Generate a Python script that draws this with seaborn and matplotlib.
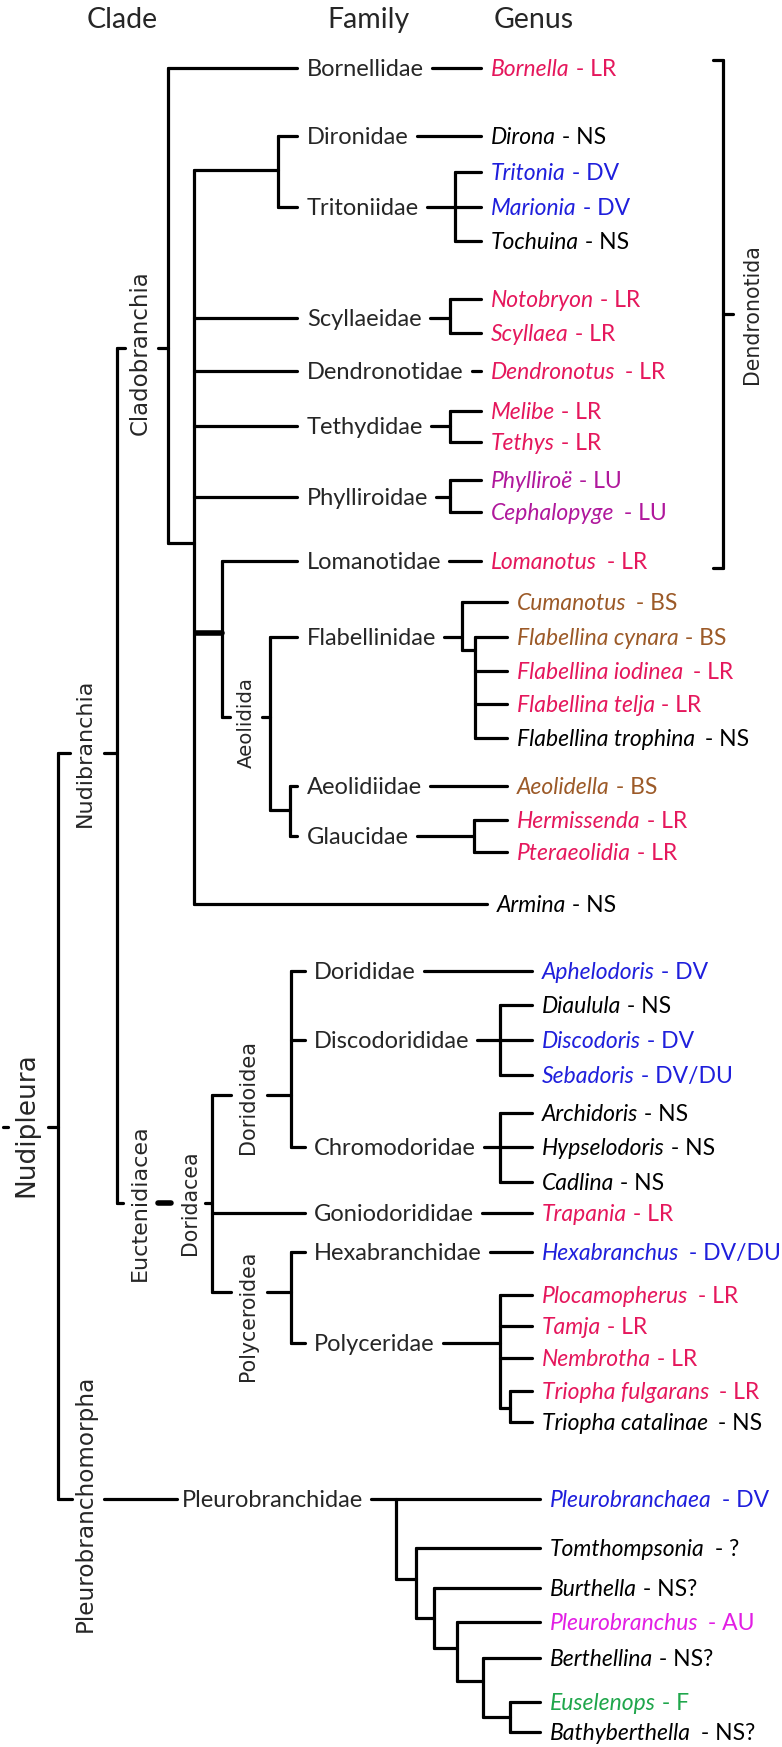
import matplotlib
matplotlib.use("Agg")
import matplotlib.pyplot as plt
import seaborn as sns
import pandas as pd

# ---------------- data ----------------
genera = ["Bornella", "Dirona", "Tritonia", "Marionia", "Tochuina", "Notobryon", "Scyllaea",
          "Dendronotus", "Melibe", "Tethys", "Phylliroë", "Cephalopyge", "Lomanotus",
          "Cumanotus", "Flabellina cynara", "Flabellina iodinea", "Flabellina telja",
          "Flabellina trophina", "Aeolidella", "Hermissenda", "Pteraeolidia", "Armina",
          "Aphelodoris", "Diaulula", "Discodoris", "Sebadoris", "Archidoris", "Hypselodoris",
          "Cadlina", "Trapania", "Hexabranchus", "Plocamopherus", "Tamja", "Nembrotha",
          "Triopha fulgarans", "Triopha catalinae", "Pleurobranchaea", "Tomthompsonia",
          "Burthella", "Pleurobranchus", "Berthellina", "Euselenops", "Bathyberthella"]
genus_codes = ["LR", "NS", "DV", "DV", "NS", "LR", "LR",
               "LR", "LR", "LR", "LU", "LU", "LR",
               "BS", "BS", "LR", "LR", "NS", "BS", "LR", "LR", "NS",
               "DV", "NS", "DV", "DV/DU", "NS", "NS", "NS", "LR",
               "DV/DU", "LR", "LR", "LR", "LR", "NS",
               "DV", "?", "NS?", "AU", "NS?", "F", "NS?"]
# genera written with a wider gap before the dash
wide_gap = ["Dendronotus", "Cephalopyge", "Lomanotus", "Cumanotus", "Flabellina iodinea",
            "Flabellina trophina", "Hexabranchus", "Plocamopherus", "Triopha fulgarans",
            "Triopha catalinae", "Pleurobranchaea", "Tomthompsonia", "Pleurobranchus",
            "Bathyberthella"]
genus_rows = [68, 136, 172, 207, 241, 299, 333, 371, 411, 442, 480, 512, 561,
              602, 637, 671, 704, 738, 786, 820, 852, 904,
              971, 1005, 1040, 1075, 1113, 1147, 1182, 1213, 1252, 1295, 1326, 1358, 1391, 1422,
              1499, 1548, 1588, 1622, 1658, 1702, 1732]

families = ["Bornellidae", "Dironidae", "Tritoniidae", "Scyllaeidae", "Dendronotidae",
            "Tethydidae", "Phylliroidae", "Lomanotidae", "Flabellinidae", "Aeolidiidae",
            "Glaucidae", "Dorididae", "Discodorididae", "Chromodoridae", "Goniodorididae",
            "Hexabranchidae", "Polyceridae", "Pleurobranchidae"]
family_rows = [68, 136, 207, 318, 371, 426, 497, 561, 637, 786, 836,
               971, 1040, 1147, 1213, 1252, 1343, 1499]

clades = ["Cladobranchia", "Nudibranchia", "Nudipleura", "Euctenidiacea", "Doridacea",
          "Doridoidea", "Polyceroidea", "Aeolidida", "Dendronotida", "Pleurobranchomorpha"]

code_colors = {"LR": "#e5175c", "DV": "#1f1fdc", "DV/DU": "#1f1fdc", "LU": "#b0189c",
               "BS": "#9c5a28", "AU": "#e21ee4", "F": "#1fa64b"}

# ---------------- layout ----------------
W, H = 782, 1747
LW, LW_THICK = 2.3, 4.0
R = dict(zip(genera, genus_rows))
F = dict(zip(families, family_rows))

# x where each group of genus branches ends
tip = {}
for g in genera[:13]:
    tip[g] = 481
for g in genera[13:21]:
    tip[g] = 507
tip["Armina"] = 487
for g in genera[22:36]:
    tip[g] = 532
for g in genera[36:]:
    tip[g] = 540

fam_x = {f: 307 for f in families[:11]}
fam_x.update({f: 314 for f in families[11:17]})
fam_x["Pleurobranchidae"] = 182
# where the line leaving each family label stops
fam_to = {"Bornellidae": 481, "Dironidae": 481, "Tritoniidae": 455, "Scyllaeidae": 450,
          "Dendronotidae": 481, "Tethydidae": 450, "Phylliroidae": 450, "Lomanotidae": 481,
          "Flabellinidae": 462, "Aeolidiidae": 507, "Glaucidae": 474, "Dorididae": 532,
          "Discodorididae": 500, "Chromodoridae": 500, "Goniodorididae": 532,
          "Hexabranchidae": 532, "Polyceridae": 500, "Pleurobranchidae": 540}

clade_x = [140, 85, 26, 140, 190, 248, 248, 246, 752, 85]
clade_y = [353, 753, 1125, 1203, 1203, 1097, 1316, 723, 314, 1503]
clade_size = [16.5, 16, 19, 16, 14.8, 15, 14.8, 14.2, 14.8, 16.7]

segs = []


def h(y, x0, x1, lw=LW):
    segs.append((x0, y, x1, y, lw))


def v(x, y0, y1, lw=LW):
    segs.append((x, y0, x, y1, lw))


def fork(x, ys, x_end):
    v(x, min(ys), max(ys))
    for y in ys:
        h(y, x, x_end)


# Cladobranchia
v(168, F["Bornellidae"], 543)
h(F["Bornellidae"], 168, 297)
h(543, 168, 194)
v(194, 170, R["Armina"])
h(170, 194, 278)
fork(278, [F["Dironidae"], F["Tritoniidae"]], 297)
for f in ["Scyllaeidae", "Dendronotidae", "Tethydidae", "Phylliroidae"]:
    h(F[f], 194, 297)
fork(455, [R["Tritonia"], R["Marionia"], R["Tochuina"]], 481)
fork(450, [R["Notobryon"], R["Scyllaea"]], 481)
fork(450, [R["Melibe"], R["Tethys"]], 481)
fork(450, [R["Phylliroë"], R["Cephalopyge"]], 481)
h(633, 196, 222, LW_THICK)
v(222, F["Lomanotidae"], 717)
h(F["Lomanotidae"], 222, 297)
h(717, 222, 230)
h(717, 262, 270)
v(270, F["Flabellinidae"], 810)
h(F["Flabellinidae"], 270, 297)
h(810, 270, 290)
fork(290, [F["Aeolidiidae"], F["Glaucidae"]], 297)
v(462, R["Cumanotus"], 650)
h(R["Cumanotus"], 462, 507)
h(650, 462, 475)
fork(475, [R["Flabellina cynara"], R["Flabellina iodinea"], R["Flabellina telja"],
           R["Flabellina trophina"]], 507)
fork(474, [R["Hermissenda"], R["Pteraeolidia"]], 507)
h(R["Armina"], 194, 487)

# deeper clades
h(348, 117, 125)
h(348, 158, 168)
v(117, 348, 1203)
h(753, 58, 70)
h(753, 104, 117)
v(58, 753, 1499)
h(1127, 3, 8)
h(1127, 48, 58)
h(1203, 117, 123)
h(1203, 158, 171, LW_THICK)
h(1203, 205, 212)
v(212, 1095, 1292)
h(1095, 212, 231)
h(1095, 267, 291)
fork(291, [F["Dorididae"], F["Discodorididae"], F["Chromodoridae"]], 305)
fork(500, [R["Diaulula"], R["Discodoris"], R["Sebadoris"]], 532)
fork(500, [R["Archidoris"], R["Hypselodoris"], R["Cadlina"]], 532)
h(F["Goniodorididae"], 212, 305)
h(1292, 212, 231)
h(1292, 267, 291)
fork(291, [F["Hexabranchidae"], F["Polyceridae"]], 305)
v(500, R["Plocamopherus"], 1408)
for g in ["Plocamopherus", "Tamja", "Nembrotha"]:
    h(R[g], 500, 532)
h(1408, 500, 510)
fork(510, [R["Triopha fulgarans"], R["Triopha catalinae"]], 532)

# Pleurobranchomorpha
h(1499, 58, 72)
h(1499, 104, 177)
ladder_x = [396, 416, 434, 457, 483, 510]
ladder_node = [1579, 1618, 1648, 1681, 1717]
ladder_leaf = ["Pleurobranchaea", "Tomthompsonia", "Burthella", "Pleurobranchus", "Berthellina"]
for i in range(5):
    v(ladder_x[i], R[ladder_leaf[i]], ladder_node[i])
    if i > 0:
        h(R[ladder_leaf[i]], ladder_x[i], 540)
    h(ladder_node[i], ladder_x[i], ladder_x[i + 1])
fork(510, [R["Euselenops"], R["Bathyberthella"]], 540)

# Dendronotida bracket
v(723, 60, 568)
h(60, 713, 723)
h(568, 713, 723)
h(314, 723, 733)

# ---------------- drawing ----------------
sns.set_theme(style="white")
plt.rcParams["font.family"] = ["Lato", "DejaVu Sans"]

fig = plt.figure(figsize=(W / 100, H / 100), dpi=100)
ax = fig.add_axes([0, 0, 1, 1])
ax.set_xlim(0, W)
ax.set_ylim(H, 0)

FS_FAM, FS_GEN = 17, 16.5
CAP = 8.3  # half cap height in px, to put text centre on the branch

# family labels first, so the connectors can start after them
fam_txt = []
for f, y in zip(families, family_rows):
    fam_txt.append(ax.text(fam_x[f], y + CAP, f, fontsize=FS_FAM, va="baseline", ha="left"))

gen_txt = []
for g, code, y in zip(genera, genus_codes, genus_rows):
    c = code_colors.get(code, "black")
    gen_txt.append(ax.text(tip[g] + 10, y + CAP, g, fontsize=FS_GEN, style="italic",
                           color=c, va="baseline", ha="left"))

fig.canvas.draw()
rend = fig.canvas.get_renderer()
inv = ax.transData.inverted()

for t, f, y in zip(fam_txt, families, family_rows):
    x_end = inv.transform((t.get_window_extent(rend).x1, 0))[0]
    h(y, min(x_end + 8, fam_to[f] - 4), fam_to[f])

for t, g, code, y in zip(gen_txt, genera, genus_codes, genus_rows):
    x_end = inv.transform((t.get_window_extent(rend).x1, 0))[0]
    x_end += 4 if g in wide_gap else 0
    ax.text(x_end, y + CAP, " - " + code, fontsize=FS_GEN, color=t.get_color(),
            va="baseline", ha="left")

df = pd.DataFrame(
    [(i, x0, y0, lw) for i, (x0, y0, x1, y1, lw) in enumerate(segs)] +
    [(i, x1, y1, lw) for i, (x0, y0, x1, y1, lw) in enumerate(segs)],
    columns=["seg", "x", "y", "lw"])
for lw, part in df.groupby("lw"):
    sns.lineplot(data=part, x="x", y="y", units="seg", estimator=None, sort=False,
                 color="black", linewidth=lw, legend=False, ax=ax)

for name, x, y, s in zip(clades, clade_x, clade_y, clade_size):
    ax.text(x, y, name, fontsize=s, rotation=90, ha="center", va="center",
            family="DejaVu Sans")

for name, x in zip(["Clade", "Family", "Genus"], [122, 368, 534]):
    ax.text(x, 28, name, fontsize=20.5, ha="center", va="baseline")

ax.set_xlim(0, W)
ax.set_ylim(H, 0)
ax.axis("off")
fig.savefig("out.png", dpi=100, facecolor="white")
